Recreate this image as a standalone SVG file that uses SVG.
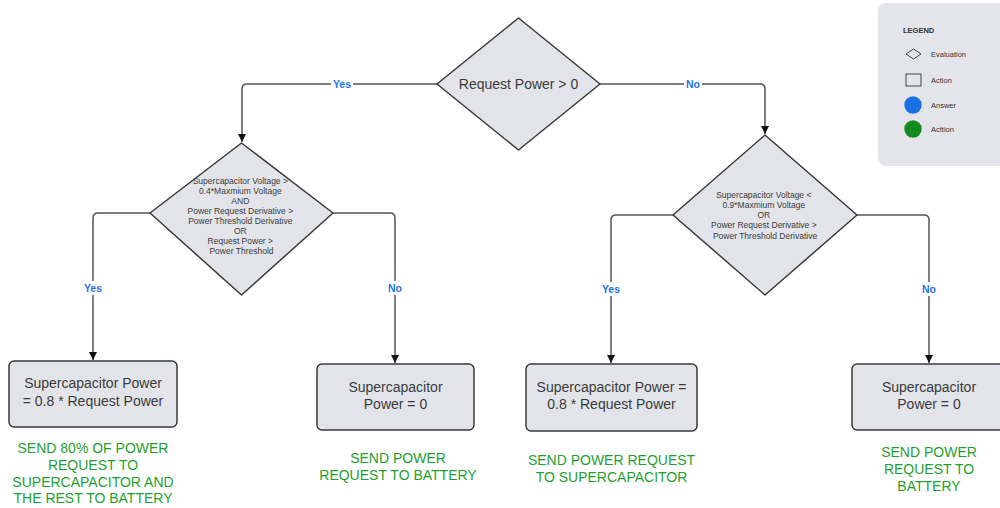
<svg xmlns="http://www.w3.org/2000/svg" width="1000" height="508" viewBox="0 0 1000 508">
<style>
.node{fill:#e2e4e9;stroke:#3a3a3a;stroke-width:1.5;stroke-linejoin:round}
.t{font-family:"Liberation Sans",Arial,sans-serif;fill:#3b3b3b;text-anchor:middle}
.big{font-size:14px}
.small{font-size:8.5px}
.green{font-family:"Liberation Sans",Arial,sans-serif;font-size:14px;fill:#1f9f2f;text-anchor:middle}
.conn{fill:none;stroke:#555;stroke-width:1.5}
.lbl{font-family:"Liberation Sans",Arial,sans-serif;font-size:10.5px;font-weight:bold;fill:#1f74e8;text-anchor:middle}
.lblbg{fill:#fff}
.lg{font-family:"Liberation Sans",Arial,sans-serif;font-size:7.5px;fill:#333}
</style>
<defs>
<marker id="arr" viewBox="0 0 10 10" refX="10" refY="5" markerWidth="8" markerHeight="8" markerUnits="userSpaceOnUse" orient="auto">
<path d="M0,0 L10,5 L0,10 z" fill="#111"/>
</marker>
</defs>
<rect width="1000" height="508" fill="#fff"/>

<g id="connectors">
<path class="conn" d="M437,84 H247 Q242,84 242,89 V142" marker-end="url(#arr)"/>
<path class="conn" d="M600,84 H760 Q765,84 765,89 V134" marker-end="url(#arr)"/>
<path class="conn" d="M150,213 H98 Q93,213 93,218 V360" marker-end="url(#arr)"/>
<path class="conn" d="M333,213 H390 Q395,213 395,218 V363" marker-end="url(#arr)"/>
<path class="conn" d="M673,215 H616 Q611,215 611,220 V363" marker-end="url(#arr)"/>
<path class="conn" d="M857,215 H924 Q929,215 929,220 V363" marker-end="url(#arr)"/>
<rect class="lblbg" x="331" y="77" width="22" height="14"/>
<text class="lbl" x="342" y="88">Yes</text>
<rect class="lblbg" x="684" y="77" width="18" height="14"/>
<text class="lbl" x="693" y="88">No</text>
<rect class="lblbg" x="82" y="281" width="22" height="14"/>
<text class="lbl" x="93" y="292">Yes</text>
<rect class="lblbg" x="386" y="281" width="18" height="14"/>
<text class="lbl" x="395" y="292">No</text>
<rect class="lblbg" x="600" y="282" width="22" height="14"/>
<text class="lbl" x="611" y="293">Yes</text>
<rect class="lblbg" x="920" y="282" width="18" height="14"/>
<text class="lbl" x="929" y="293">No</text>
</g>

<g id="d1">
<polygon class="node" points="518.5,18 600,84 518.5,150 437,84"/>
<text class="t big" x="518.5" y="89">Request Power &gt; 0</text>
</g>

<g id="d2">
<polygon class="node" points="241.5,143 333,213 241.5,295 150,213"/>
<text class="t small">
<tspan x="241.5" y="184">Supercapacitor Voltage &gt;</tspan>
<tspan x="241.5" y="194">0.4*Maxmium Voltage</tspan>
<tspan x="241.5" y="204">AND</tspan>
<tspan x="241.5" y="214">Power Request Derivative &gt;</tspan>
<tspan x="241.5" y="224">Power Threshold Derivative</tspan>
<tspan x="241.5" y="234">OR</tspan>
<tspan x="241.5" y="244">Request Power &gt;</tspan>
<tspan x="241.5" y="254">Power Threshold</tspan>
</text>
</g>

<g id="d3">
<polygon class="node" points="765,135 857,215 765,295 673,215"/>
<text class="t small">
<tspan x="765" y="198">Supercapacitor Voltage &lt;</tspan>
<tspan x="765" y="208">0.9*Maxmium Voltage</tspan>
<tspan x="765" y="218">OR</tspan>
<tspan x="765" y="228">Power Request Derivative &gt;</tspan>
<tspan x="765" y="239">Power Threshold Derivative</tspan>
</text>
</g>

<g id="b1">
<rect class="node" x="9" y="361" width="168" height="66" rx="5"/>
<text class="t big"><tspan x="93" y="388">Supercapacitor Power</tspan><tspan x="93" y="406">= 0.8 * Request Power</tspan></text>
<text class="green"><tspan x="93" y="453">SEND 80% OF POWER</tspan><tspan x="93" y="470">REQUEST TO</tspan><tspan x="93" y="487">SUPERCAPACITOR AND</tspan><tspan x="93" y="503">THE REST TO BATTERY</tspan></text>
</g>

<g id="b2">
<rect class="node" x="317" y="364" width="157" height="66" rx="5"/>
<text class="t big"><tspan x="395.5" y="392">Supercapacitor</tspan><tspan x="395.5" y="409">Power = 0</tspan></text>
<text class="green"><tspan x="398" y="463">SEND POWER</tspan><tspan x="398" y="480">REQUEST TO BATTERY</tspan></text>
</g>

<g id="b3">
<rect class="node" x="526" y="364" width="171" height="67" rx="5"/>
<text class="t big"><tspan x="611.5" y="392">Supercapacitor Power =</tspan><tspan x="611.5" y="409">0.8 * Request Power</tspan></text>
<text class="green"><tspan x="611.5" y="465">SEND POWER REQUEST</tspan><tspan x="611.5" y="482">TO SUPERCAPACITOR</tspan></text>
</g>

<g id="b4">
<rect class="node" x="852" y="364" width="158" height="66" rx="5"/>
<text class="t big"><tspan x="929" y="392">Supercapacitor</tspan><tspan x="929" y="409">Power = 0</tspan></text>
<text class="green"><tspan x="929" y="457">SEND POWER</tspan><tspan x="929" y="474">REQUEST TO</tspan><tspan x="929" y="491">BATTERY</tspan></text>
</g>

<g id="legend">
<rect x="878" y="3" width="135" height="163" rx="8" fill="#e3e5ea"/>
<text class="lg" x="903" y="33" font-weight="bold" font-size="7px">LEGEND</text>
<polygon points="906,54 913.5,49 921,54 913.5,59" fill="none" stroke="#333" stroke-width="0.9"/>
<text class="lg" x="931" y="57">Evaluation</text>
<rect x="906" y="74" width="15" height="12" fill="none" stroke="#333" stroke-width="0.9"/>
<text class="lg" x="931" y="82.5">Action</text>
<circle cx="913" cy="105" r="8.7" fill="#1a6fe3"/>
<text class="lg" x="931" y="107.5">Answer</text>
<circle cx="913" cy="129" r="8.7" fill="#13891f"/>
<text class="lg" x="931" y="131.5">Acttion</text>
</g>
</svg>
